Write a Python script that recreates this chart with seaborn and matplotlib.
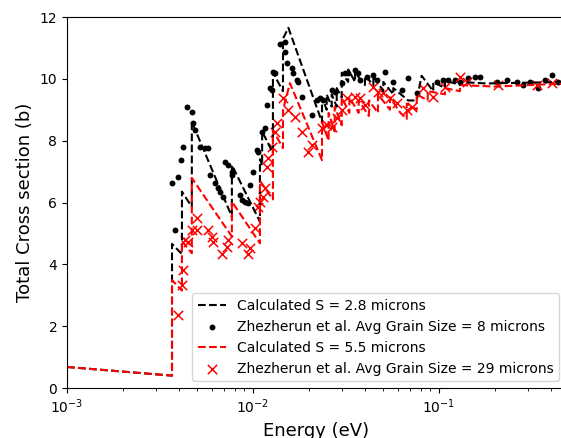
import matplotlib
matplotlib.use("Agg")
import matplotlib.pyplot as plt
import pandas as pd
import seaborn as sns

# calculated cross sections (Bragg edges give the vertical jumps)
calc_28_energy = [0.001, 0.00367, 0.00367, 0.00415, 0.00415, 0.00469, 0.00469,
                  0.0077, 0.0077, 0.0109, 0.0109, 0.0112, 0.0112, 0.0128, 0.0128,
                  0.0145, 0.0145, 0.0155, 0.0235, 0.0235, 0.0249, 0.0249, 0.0265,
                  0.0265, 0.0282, 0.0282, 0.0300, 0.0300, 0.0325, 0.0325, 0.0354,
                  0.0354, 0.0400, 0.0400, 0.0444, 0.0444, 0.0502, 0.0502, 0.0568,
                  0.0568, 0.0684, 0.0759, 0.0807, 0.0932, 0.0932, 0.1077, 0.1077,
                  0.13, 0.13, 0.18, 0.48]
calc_28_sigma = [0.68, 0.40, 4.66, 4.33, 6.35, 5.86, 8.61,
                 5.54, 7.21, 5.38, 7.4, 7.2, 8.3, 7.6, 10.2,
                 9.6, 11.3, 11.65, 8.6, 9.4, 9.0, 9.5, 9.1,
                 9.5, 9.1, 9.7, 9.4, 10.2, 9.9, 10.3, 9.9,
                 10.2, 9.8, 10.1, 9.8, 10.1, 9.6, 9.9, 9.5,
                 9.7, 9.3, 9.3, 10.1, 9.6, 9.9, 9.7, 9.95,
                 9.8, 9.9, 9.85, 9.9]

calc_55_energy = [0.001, 0.00367, 0.00367, 0.00415, 0.00415, 0.00469, 0.00469,
                  0.0077, 0.0077, 0.0109, 0.0109, 0.0128, 0.0128, 0.0145, 0.0145,
                  0.0158, 0.0235, 0.0235, 0.0255, 0.0255, 0.0275, 0.0275, 0.0300,
                  0.0300, 0.0330, 0.0330, 0.0370, 0.0370, 0.0420, 0.0420, 0.0470,
                  0.0470, 0.0545, 0.0545, 0.0620, 0.0671, 0.0671, 0.0759, 0.0759,
                  0.0870, 0.0870, 0.1077, 0.1077, 0.1297, 0.1297, 0.20, 0.48]
calc_55_sigma = [0.68, 0.40, 3.49, 3.15, 4.75, 4.36, 6.79,
                 4.9, 6.03, 4.68, 6.7, 6.1, 8.34, 7.76, 9.0,
                 9.86, 7.37, 8.6, 8.0, 8.9, 8.3, 9.1, 8.5,
                 9.4, 8.9, 9.4, 8.9, 9.3, 8.8, 9.3, 8.9,
                 9.5, 9.0, 9.4, 8.9, 8.7, 9.2, 9.0, 9.5,
                 9.3, 9.6, 9.5, 9.7, 9.6, 9.8, 9.75, 9.85]

# measured data, Zhezherun et al.
meas_8_energy = [0.00366, 0.00381, 0.00397, 0.00409, 0.00422, 0.00440, 0.00468,
                 0.00478, 0.00488, 0.00519, 0.00552, 0.00575, 0.00587, 0.00625,
                 0.00651, 0.00665, 0.00692, 0.00707, 0.00737, 0.00768, 0.00768,
                 0.00851, 0.00869, 0.00906, 0.00944, 0.00964, 0.01004, 0.01047,
                 0.01068, 0.01114, 0.01160, 0.01185, 0.01234, 0.01260, 0.01286,
                 0.01313, 0.01397, 0.01486, 0.01486, 0.01518, 0.01615, 0.01647,
                 0.01718, 0.01752, 0.01827, 0.02069, 0.0220, 0.0229, 0.0239,
                 0.0265, 0.0276, 0.0300, 0.0312, 0.0325, 0.0354, 0.0368, 0.0376,
                 0.0409, 0.0444, 0.0463, 0.0513, 0.0568, 0.0630, 0.0684, 0.0759,
                 0.0972, 0.1055, 0.1122, 0.1219, 0.1297, 0.1437, 0.1561, 0.1661,
                 0.2043, 0.2312, 0.2617, 0.2840, 0.3084, 0.3420, 0.3715, 0.4036,
                 0.4379]
meas_8_sigma = [6.62, 5.11, 6.83, 7.37, 7.80, 9.10, 8.94,
                8.56, 8.34, 7.80, 7.76, 7.76, 6.89, 6.62,
                6.46, 6.35, 6.19, 7.32, 7.21, 7.0, 6.89,
                6.24, 6.08, 6.03, 5.97, 6.57, 7.0, 7.70,
                7.64, 8.29, 8.40, 9.15, 9.69, 9.64, 10.23,
                10.18, 11.14, 11.2, 10.88, 10.5, 10.34, 10.18,
                9.96, 9.91, 9.42, 8.83, 9.31, 9.37, 9.31,
                9.64, 9.59, 9.86, 10.18, 10.18, 10.28, 10.18, 9.96,
                10.07, 10.12, 9.96, 10.23, 9.91, 9.64, 10.02, 9.53,
                9.91, 9.96, 9.96, 9.96, 9.91, 10.02, 10.07, 10.07,
                9.91, 9.96, 9.91, 9.80, 9.91, 9.69, 9.96, 10.12,
                9.91]

meas_29_energy = [0.00397, 0.00414, 0.00422, 0.00431, 0.00449, 0.00468, 0.00498,
                  0.00498, 0.00575, 0.00600, 0.00612, 0.00679, 0.00722, 0.00737,
                  0.00869, 0.00944, 0.00964, 0.01025, 0.01068, 0.01090, 0.01136,
                  0.01160, 0.01185, 0.01209, 0.01260, 0.01313, 0.01341, 0.01455,
                  0.01548, 0.01682, 0.01827, 0.01983, 0.02069, 0.0234, 0.0249,
                  0.0265, 0.0282, 0.0300, 0.0319, 0.0354, 0.0376, 0.0400, 0.0444,
                  0.0472, 0.0502, 0.0545, 0.0592, 0.0671, 0.0713, 0.0823, 0.0932,
                  0.1077, 0.1297, 0.1409, 0.2084, 0.3352, 0.4036]
meas_29_sigma = [2.36, 3.33, 3.82, 4.79, 4.73, 5.11, 5.49,
                 5.11, 5.11, 4.89, 4.73, 4.35, 4.57, 4.79,
                 4.68, 4.35, 4.52, 5.16, 5.86, 6.03, 6.19,
                 6.46, 7.16, 7.43, 7.80, 8.29, 8.56, 9.37,
                 8.99, 8.77, 8.29, 7.64, 7.86, 8.40, 8.51,
                 8.45, 8.72, 8.99, 9.37, 9.42, 9.37, 9.15, 9.75,
                 9.59, 9.53, 9.37, 9.21, 8.99, 9.10, 9.69, 9.42,
                 9.75, 10.07, 9.91, 9.80, 9.80, 9.86]

calc_28 = pd.DataFrame({"energy": calc_28_energy, "sigma": calc_28_sigma})
calc_55 = pd.DataFrame({"energy": calc_55_energy, "sigma": calc_55_sigma})
meas_8 = pd.DataFrame({"energy": meas_8_energy, "sigma": meas_8_sigma})
meas_29 = pd.DataFrame({"energy": meas_29_energy, "sigma": meas_29_sigma})

fig = plt.figure(figsize=(5.61, 4.38), dpi=100)
# the original figure is cropped: the right spine falls just outside the image
ax = fig.add_axes([67 / 561, 50 / 438, 499 / 561, 371 / 438])

sns.lineplot(data=calc_28, x="energy", y="sigma", ax=ax, sort=False, estimator=None,
             color="black", linestyle="--", linewidth=1.5,
             label="Calculated S = 2.8 microns")
sns.scatterplot(data=meas_8, x="energy", y="sigma", ax=ax, color="black", marker="o",
                s=18, edgecolor="black", linewidth=0,
                label="Zhezherun et al. Avg Grain Size = 8 microns")
sns.lineplot(data=calc_55, x="energy", y="sigma", ax=ax, sort=False, estimator=None,
             color="red", linestyle="--", linewidth=1.5,
             label="Calculated S = 5.5 microns")
sns.scatterplot(data=meas_29, x="energy", y="sigma", ax=ax, color="red", marker="x",
                s=45, linewidth=1.1,
                label="Zhezherun et al. Avg Grain Size = 29 microns")

ax.set_xscale("log")
ax.set_xlim(1e-3, 0.482)
ax.set_ylim(0, 12)
ax.set_xlabel("Energy (eV)", fontsize=13)
ax.set_ylabel("Total Cross section (b)", fontsize=13)
ax.legend(loc="lower right", fontsize=10)

fig.savefig("out.png", dpi=100)
